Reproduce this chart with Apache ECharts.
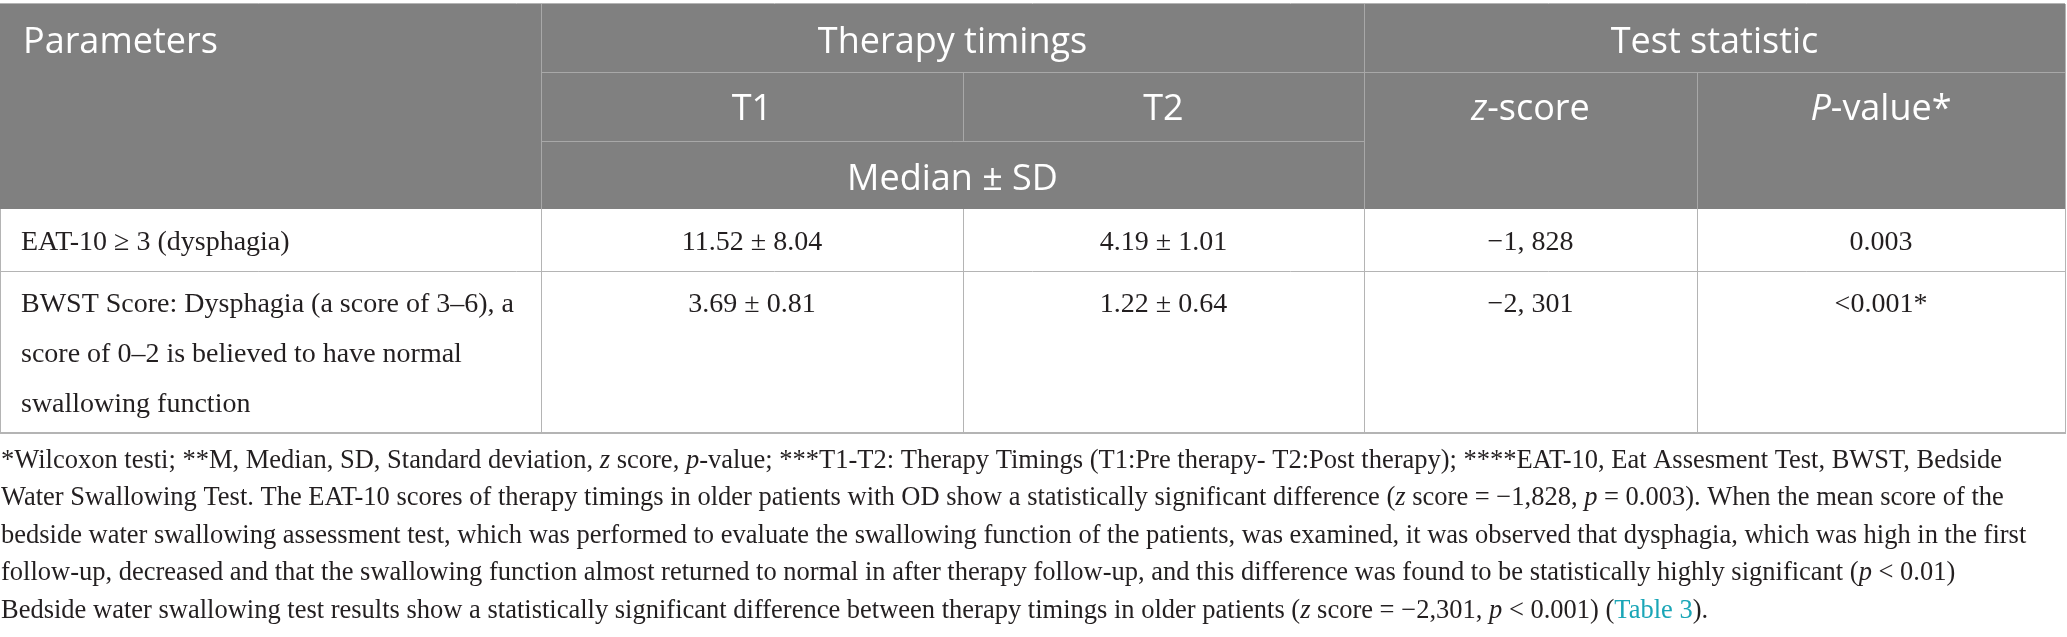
<!DOCTYPE html>
<html>
<head>
<meta charset="utf-8">
<script src="https://cdn.jsdelivr.net/npm/echarts@6/dist/echarts.min.js"></script>
<style>
html,body{margin:0;padding:0;background:#fff;}
#main{width:2067px;height:637px;}
</style>
</head>
<body>
<div id="main"></div>
<script>
// header texts
var headTop = ['Parameters', 'Therapy timings', 'Test statistic'];
var headMid = ['T1', 'T2', '{i|z}-score', '{i|P}-value*'];
var headLow = ['Median ± SD'];
// rows
var params = ['EAT-10 ≥ 3 (dysphagia)', 'BWST Score: Dysphagia (a score of 3–6), a\nscore of 0–2 is believed to have normal\nswallowing function'];
var t1Values = ['11.52 ± 8.04', '3.69 ± 0.81'];
var t2Values = ['4.19 ± 1.01', '1.22 ± 0.64'];
var zScores = ['−1, 828', '−2, 301'];
var pValues = ['0.003', '<0.001*'];
// footnote lines
var notes = [
	'*Wilcoxon testi; **M, Median, SD, Standard deviation, {i|z} score, {i|p}-value; ***T1-T2: Therapy Timings (T1:Pre therapy- T2:Post therapy); ****EAT-10, Eat Assesment Test, BWST, Bedside',
	'Water Swallowing Test. The EAT-10 scores of therapy timings in older patients with OD show a statistically significant difference ({i|z} score = −1,828, {i|p} = 0.003). When the mean score of the',
	'bedside water swallowing assessment test, which was performed to evaluate the swallowing function of the patients, was examined, it was observed that dysphagia, which was high in the first',
	'follow-up, decreased and that the swallowing function almost returned to normal in after therapy follow-up, and this difference was found to be statistically highly significant ({i|p} < 0.01)',
	'Bedside water swallowing test results show a statistically significant difference between therapy timings in older patients ({i|z} score = −2,301, {i|p} < 0.001) ({a|Table 3}).'
];

var colX = [0, 541, 963, 1364, 1697, 2065];
var rowY = [4, 72, 141, 209, 271, 433];
var headFont = 'Open Sans', bodyFont = 'Liberation Serif';
var headSize = 36, bodySize = 28, noteSize = 26.5;
var headLine = '#a8a8a8', bodyLine = '#b4b4b4';

function mid(a, b){ return (a + b) / 2; }

function line(x1, y1, x2, y2, color, w){
	return {type:'line', shape:{x1:x1, y1:y1, x2:x2, y2:y2}, style:{stroke:color, lineWidth:w || 1}, silent:true};
}
function txt(x, y, s, opt){
	var st = {
		text: s, x: 0, y: 0,
		fontFamily: opt.family, fontSize: opt.size, fill: opt.fill,
		align: opt.align || 'center', verticalAlign: 'middle',
		rich: {
			i: {fontFamily: opt.family, fontSize: opt.size, fontStyle:'italic', fill: opt.fill},
			a: {fontFamily: opt.family, fontSize: opt.size, fill:'#1aa6b7'}
		}
	};
	return {type:'text', x:x, y:y, style:st, silent:true};
}

var els = [];
// header background
els.push({type:'rect', shape:{x:0, y:rowY[0], width:colX[5], height:rowY[3] - rowY[0]}, style:{fill:'#808080'}, silent:true});
// header grid
els.push(line(colX[1] + 0.5, rowY[0], colX[1] + 0.5, rowY[3], headLine));
els.push(line(colX[3] + 0.5, rowY[0], colX[3] + 0.5, rowY[3], headLine));
els.push(line(colX[1], rowY[1] + 0.5, colX[5], rowY[1] + 0.5, headLine));
els.push(line(colX[1], rowY[2] + 0.5, colX[3], rowY[2] + 0.5, headLine));
els.push(line(colX[2] + 0.5, rowY[1], colX[2] + 0.5, rowY[2], headLine));
els.push(line(colX[4] + 0.5, rowY[1], colX[4] + 0.5, rowY[3], headLine));
// outer border
els.push(line(0, rowY[0] - 0.5, colX[5], rowY[0] - 0.5, bodyLine));
els.push(line(0.5, rowY[3], 0.5, rowY[5], bodyLine));
els.push(line(colX[5] + 0.5, rowY[0], colX[5] + 0.5, rowY[5], bodyLine));
els.push(line(0, rowY[5], colX[5] + 1, rowY[5], bodyLine, 2));
// body grid
els.push(line(0, rowY[4] + 0.5, colX[5], rowY[4] + 0.5, bodyLine));
for (var c = 1; c <= 4; c++) {
	els.push(line(colX[c] + 0.5, rowY[3], colX[c] + 0.5, rowY[5], bodyLine));
}

// header text
var hOpt = {family:headFont, size:headSize, fill:'#ffffff'};
var hOff = 10.3; // baseline -> em middle
els.push(txt(23, 53 - hOff, headTop[0], {family:headFont, size:headSize, fill:'#fff', align:'left'}));
els.push(txt(mid(colX[1], colX[3]), 53 - hOff, headTop[1], hOpt));
els.push(txt(mid(colX[3], colX[5]), 53 - hOff, headTop[2], hOpt));
for (var h = 0; h < headMid.length; h++) {
	els.push(txt(mid(colX[h + 1], colX[h + 2]), 120 - hOff, headMid[h], hOpt));
}
els.push(txt(mid(colX[1], colX[3]), 190 - hOff, headLow[0], hOpt));

// body rows
var bOpt = {family:bodyFont, size:bodySize, fill:'#231f20'};
var bOff = 8.5;
for (var r = 0; r < params.length; r++) {
	var base = rowY[r + 3] + 42;
	var parts = params[r].split('\n');
	for (var k = 0; k < parts.length; k++) {
		els.push(txt(21, base + k * 50 - bOff, parts[k], {family:bodyFont, size:bodySize, fill:'#231f20', align:'left'}));
	}
	var cells = [t1Values[r], t2Values[r], zScores[r], pValues[r]];
	for (var j = 0; j < cells.length; j++) {
		els.push(txt(mid(colX[j + 1], colX[j + 2]), base - bOff, cells[j], bOpt));
	}
}

// footnote
var nOff = 8.1;
for (var n = 0; n < notes.length; n++) {
	els.push(txt(1, 469 + n * 37.5 - nOff, notes[n], {family:bodyFont, size:noteSize, fill:'#231f20', align:'left'}));
}

var myChart = echarts.init(document.getElementById('main'));
myChart.setOption({
	backgroundColor:'#ffffff',
	animation:false,
	graphic:{elements:els}
});
</script>
</body>
</html>
